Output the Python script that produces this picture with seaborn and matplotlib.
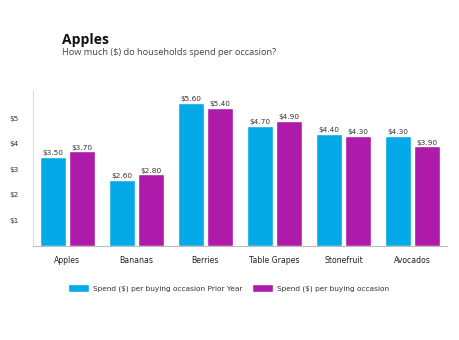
import matplotlib
matplotlib.use("Agg")
import matplotlib.pyplot as plt
import seaborn as sns
import pandas as pd

categories = ["Apples", "Bananas", "Berries", "Table Grapes", "Stonefruit", "Avocados"]
prior_year = [3.50, 2.60, 5.60, 4.70, 4.40, 4.30]
current = [3.70, 2.80, 5.40, 4.90, 4.30, 3.90]
series_names = ["Spend ($) per buying occasion Prior Year", "Spend ($) per buying occasion"]
yticks = [1, 2, 3, 4, 5]
ytick_labels = ["$1", "$2", "$3", "$4", "$5"]

df = pd.DataFrame({
    "category": categories * 2,
    "value": prior_year + current,
    "series": [series_names[0]] * len(categories) + [series_names[1]] * len(categories),
})

sns.set_style("white")
plt.rcParams["font.family"] = ["DejaVu Sans"]

fig = plt.figure(figsize=(4.6, 3.4), dpi=100)
ax = fig.add_axes([0.0717, 0.2765, 0.9, 0.4585])

palette = ["#04A9E7", "#AE1BAA"]
sns.barplot(data=df, x="category", y="value", hue="series", palette=palette,
            width=0.83, gap=0.08, ax=ax, saturation=1, legend=True)

for cont in ax.containers:
    ax.bar_label(cont, labels=[f"${v:.2f}" for v in cont.datavalues],
                 fontsize=5.3, color="#333333", padding=0.5)

ax.set_ylim(0, 6.1)
ax.set_xlim(-0.5, 5.5)
ax.set_yticks(yticks)
ax.set_yticklabels(ytick_labels)
ax.set_xlabel("")
ax.set_ylabel("")
ax.tick_params(axis="y", length=0, labelsize=5.3, labelcolor="#333333", pad=10)
ax.tick_params(axis="x", length=0, labelsize=5.6, labelcolor="#222222", pad=7)
for s in ["top", "right"]:
    ax.spines[s].set_visible(False)
ax.spines["left"].set_color("#dddddd")
ax.spines["left"].set_linewidth(0.8)
ax.spines["bottom"].set_color("#bbbbbb")
ax.spines["bottom"].set_linewidth(0.8)

handles, labels = ax.get_legend_handles_labels()
ax.legend(handles, labels, loc="center", bbox_to_anchor=(0.472, -0.27), ncol=2,
          frameon=False, fontsize=5.3, handlelength=2.9, handleheight=1.4,
          columnspacing=1.3, handletextpad=0.5, labelcolor="#333333")

fig.text(0.135, 0.872, "Apples", fontsize=10, fontweight="bold", family=["Open Sans"], color="#111111")
fig.text(0.135, 0.838, "How much ($) do households spend per occasion?", fontsize=6.7,
         family=["Open Sans"], color="#444444")

fig.savefig("out.png", dpi=100)
